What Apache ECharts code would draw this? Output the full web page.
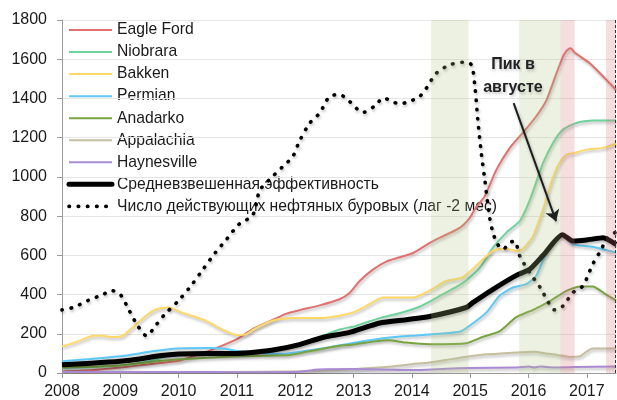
<!DOCTYPE html>
<html>
<head>
<meta charset="utf-8">
<script src="https://cdn.jsdelivr.net/npm/echarts@6/dist/echarts.min.js"></script>
<style>
  html, body { margin: 0; padding: 0; background: #fff; }
  #chart { width: 617px; height: 400px; }
</style>
</head>
<body>
<div id="chart"></div>
<script>
// Horizontal axis: fractional years; vertical axis: rigs / productivity
const xMin = 2008, xMax = 2017.5;
const yMin = 0, yMax = 1800, yStep = 200;

const seriesNames = [
  'Eagle Ford', 'Niobrara', 'Bakken', 'Permian', 'Anadarko', 'Appalachia', 'Haynesville',
  'Средневзвешенная эффективность',
  'Число действующих нефтяных буровых (лаг -2 мес)'
];

// [year, value]
const eagleFord = [[2008.0, 8], [2008.5, 14], [2009.0, 28], [2009.5, 45], [2010.0, 63], [2010.3, 90], [2010.6, 122],
  [2011.0, 173], [2011.27, 224], [2011.62, 272], [2011.85, 303], [2012.07, 320], [2012.42, 345], [2012.76, 376],
  [2012.93, 408], [2013.1, 468], [2013.33, 527], [2013.56, 568], [2013.79, 590], [2014.02, 612], [2014.3, 662],
  [2014.48, 690], [2014.82, 740], [2014.99, 790], [2015.1, 845], [2015.25, 902], [2015.45, 1037], [2015.68, 1148],
  [2015.9, 1224], [2016.13, 1308], [2016.31, 1393], [2016.48, 1529], [2016.6, 1620], [2016.66, 1645], [2016.72, 1656],
  [2016.8, 1632], [2017.05, 1580], [2017.28, 1512], [2017.5, 1444]];

const niobrara = [[2008.0, 25], [2008.5, 30], [2009.0, 38], [2009.5, 60], [2009.8, 85], [2010.0, 95], [2010.5, 100],
  [2011.0, 100], [2011.5, 112], [2012.07, 147], [2012.47, 190], [2012.76, 222], [2013.04, 240], [2013.45, 280],
  [2013.79, 305], [2014.13, 338], [2014.48, 393], [2014.87, 458], [2015.16, 535], [2015.39, 639], [2015.62, 716],
  [2015.85, 775], [2016.02, 880], [2016.25, 1071], [2016.42, 1173], [2016.59, 1241], [2016.82, 1275],
  [2017.1, 1288], [2017.5, 1288]];

const bakken = [[2008.0, 135], [2008.3, 164], [2008.53, 190], [2008.7, 190], [2008.87, 183], [2009.04, 190],
  [2009.21, 232], [2009.44, 292], [2009.62, 325], [2009.84, 334], [2010.02, 312], [2010.19, 295], [2010.47, 266],
  [2010.76, 220], [2010.99, 193], [2011.16, 198], [2011.3, 225], [2011.62, 268], [2011.96, 280], [2012.42, 280],
  [2012.76, 292], [2012.99, 309], [2013.22, 342], [2013.5, 385], [2014.02, 385], [2014.3, 420], [2014.59, 469],
  [2014.87, 487], [2015.16, 563], [2015.4, 625], [2015.62, 634], [2015.8, 622], [2015.9, 631], [2016.08, 698],
  [2016.25, 834], [2016.4, 980], [2016.53, 1071], [2016.65, 1114], [2016.79, 1122], [2016.99, 1139],
  [2017.28, 1148], [2017.5, 1170]];

const permian = [[2008.0, 60], [2008.5, 72], [2009.0, 85], [2009.5, 108], [2009.8, 120], [2010.0, 125], [2010.5, 127],
  [2010.8, 124], [2011.0, 112], [2011.3, 103], [2011.79, 97], [2012.19, 113], [2012.6, 132], [2013.04, 156],
  [2013.62, 181], [2014.13, 193], [2014.82, 210], [2014.99, 241], [2015.28, 309], [2015.5, 393], [2015.73, 436],
  [2015.96, 453], [2016.13, 495], [2016.31, 614], [2016.48, 690], [2016.59, 700], [2016.76, 656], [2017.1, 644],
  [2017.5, 614]];

const anadarko = [[2008.0, 28], [2008.5, 32], [2009.0, 38], [2009.5, 55], [2010.0, 70], [2010.5, 78], [2011.0, 85],
  [2011.5, 88], [2011.9, 92], [2012.19, 108], [2012.5, 125], [2012.76, 139], [2013.0, 145], [2013.33, 160],
  [2013.6, 167], [2013.9, 155], [2014.3, 147], [2014.93, 152], [2015.22, 185], [2015.5, 212], [2015.79, 285],
  [2016.08, 322], [2016.36, 365], [2016.65, 419], [2016.88, 441], [2017.1, 441], [2017.33, 400], [2017.5, 370]];

const appalachia = [[2008.0, 3], [2009.0, 3], [2010.0, 4], [2011.0, 5], [2012.0, 8], [2012.5, 12], [2013.0, 20],
  [2013.3, 25], [2013.7, 35], [2014.0, 45], [2014.3, 54], [2014.7, 72], [2015.0, 85], [2015.3, 95], [2015.8, 105],
  [2016.1, 108], [2016.3, 100], [2016.5, 92], [2016.7, 82], [2016.88, 85], [2017.0, 110], [2017.1, 125],
  [2017.5, 125]];

const haynesville = [[2008.0, 5], [2009.0, 5], [2010.0, 5], [2011.0, 4], [2012.0, 5], [2012.4, 18], [2013.0, 20],
  [2013.5, 18], [2014.0, 15], [2014.6, 22], [2015.0, 25], [2015.8, 28], [2016.0, 33], [2016.1, 28], [2016.2, 33],
  [2016.4, 28], [2016.8, 30], [2017.5, 33]];

const weightedAvg = [[2008.0, 42], [2008.5, 50], [2009.0, 60], [2009.33, 71], [2009.67, 88], [2010.0, 97],
  [2010.5, 100], [2011.0, 100], [2011.3, 106], [2011.62, 117], [2012.07, 145], [2012.47, 181], [2012.93, 207],
  [2013.45, 255], [2013.9, 272], [2014.3, 288], [2014.93, 334], [2015.05, 360], [2015.39, 427], [2015.79, 498],
  [2016.02, 529], [2016.25, 600], [2016.58, 705], [2016.76, 673], [2016.99, 678], [2017.28, 690], [2017.5, 656]];

const oilRigs = [[2008.0, 322], [2008.2, 335], [2008.45, 370], [2008.7, 400], [2008.85, 420], [2009.0, 400],
  [2009.15, 320], [2009.3, 240], [2009.45, 190], [2009.6, 240], [2009.75, 295], [2010.0, 370], [2010.2, 440],
  [2010.42, 529], [2010.62, 610], [2010.82, 681], [2011.04, 760], [2011.27, 805], [2011.39, 930], [2011.56, 987],
  [2011.79, 1054], [2011.96, 1105], [2012.07, 1181], [2012.25, 1275], [2012.42, 1326], [2012.59, 1410],
  [2012.76, 1419], [2012.93, 1385], [2013.16, 1329], [2013.39, 1368], [2013.5, 1402], [2013.79, 1373],
  [2013.96, 1385], [2014.13, 1410], [2014.25, 1453], [2014.42, 1529], [2014.65, 1571], [2014.9, 1585],
  [2015.02, 1571], [2015.08, 1461], [2015.13, 1292], [2015.19, 1122], [2015.25, 986], [2015.33, 800],
  [2015.39, 716], [2015.47, 656], [2015.56, 631], [2015.68, 665], [2015.76, 673], [2015.85, 597], [2016.02, 512],
  [2016.22, 427], [2016.31, 376], [2016.45, 322], [2016.59, 342], [2016.76, 410], [2016.93, 444], [2017.1, 554],
  [2017.25, 631], [2017.33, 681], [2017.48, 716]];

const seriesData = [eagleFord, niobrara, bakken, permian, anadarko, appalachia, haynesville, weightedAvg, oilRigs];

// Highlighted periods
const greenBands = [[2014.33, 2014.97], [2015.84, 2016.55]];
const pinkBands = [[2016.55, 2016.79], [2017.33, 2017.5]];
const lastDataLine = 2017.48;

// Peak annotation
const peakNote = 'Пик в\nавгусте';
const peakNoteAt = [2015.733, 1513];
const peakArrow = [[2015.745, 1376], [2016.472, 774]];

// Line styles per series
const styles = [
  { color: '#E0716F', width: 2 },
  { color: '#6DD39B', width: 2 },
  { color: '#FFD966', width: 2 },
  { color: '#5BC8F5', width: 2 },
  { color: '#78A33F', width: 2 },
  { color: '#C5BE9F', width: 2 },
  { color: '#A98BD4', width: 2 },
  { color: '#000000', width: 5 },
  { color: '#000000', width: 3.6, type: [0.5, 8.7], cap: 'round' }
];

const FONT = '"Liberation Sans", Arial, sans-serif';
const TEXT = '#1a1a1a';

const series = seriesData.map((d, i) => {
  const s = styles[i];
  return {
    name: seriesNames[i],
    type: 'line',
    data: d,
    showSymbol: false,
    symbol: 'none',
    smooth: i === 8 ? 0.3 : 0.2,
    z: 2 + i * 0.01,
    lineStyle: {
      color: s.color,
      width: s.width,
      type: s.type || 'solid',
      cap: s.cap || 'butt',
      join: 'round',
      shadowColor: 'rgba(0,0,0,0.28)',
      shadowBlur: 3,
      shadowOffsetX: 1,
      shadowOffsetY: 2
    }
  };
});

// Shaded periods, dashed end marker and the peak annotation
series.push({
  name: 'marks',
  type: 'line',
  data: [],
  markArea: {
    silent: true,
    z: 10,
    data: greenBands.map(b => [
      { xAxis: b[0], itemStyle: { color: 'rgba(174,196,130,0.23)' } },
      { xAxis: b[1] }
    ]).concat(pinkBands.map(b => [
      { xAxis: b[0], itemStyle: { color: 'rgba(213,115,115,0.235)' } },
      { xAxis: b[1] }
    ]))
  },
  markLine: {
    silent: true,
    z: 11,
    animation: false,
    data: [
      [
        { xAxis: lastDataLine, yAxis: yMin, symbol: 'none', lineStyle: { color: '#333', width: 1, type: [3, 2] } },
        { xAxis: lastDataLine, yAxis: yMax, symbol: 'none' }
      ],
      [
        { coord: peakArrow[0], symbol: 'none',
          lineStyle: { color: '#1f1f1f', width: 2, type: 'solid',
                       shadowColor: 'rgba(0,0,0,0.3)', shadowBlur: 3, shadowOffsetX: 1, shadowOffsetY: 2 } },
        { coord: peakArrow[1], symbol: 'arrow', symbolSize: 11 }
      ]
    ],
    label: { show: false },
    symbolSize: 11
  },
  markPoint: {
    silent: true,
    z: 12,
    symbol: 'rect',
    symbolSize: 0,
    data: [{ coord: peakNoteAt }],
    label: {
      show: true,
      position: 'inside',
      formatter: peakNote,
      fontFamily: FONT,
      fontSize: 16,
      fontWeight: 'bold',
      lineHeight: 23,
      color: '#222',
      textShadowColor: 'rgba(0,0,0,0.22)',
      textShadowBlur: 3,
      textShadowOffsetX: 1,
      textShadowOffsetY: 2
    }
  }
});

// Legend drawn as line samples with labels
const legendX = 69, legendY = 30, legendRow = 22.05, legendLine = 43;
const graphic = seriesNames.map((name, i) => {
  const s = styles[i];
  return {
    type: 'group',
    x: legendX,
    y: legendY + legendRow * i,
    z: 20,
    silent: true,
    children: [
      {
        type: 'line',
        shape: { x1: 0, y1: 0, x2: legendLine, y2: 0 },
        style: {
          stroke: s.color,
          lineWidth: s.width,
          lineDash: s.type || null,
          lineCap: s.cap || (s.width > 3 ? 'round' : 'butt')
        }
      },
      {
        type: 'text',
        x: legendLine + 5,
        y: 0,
        style: {
          text: name,
          fontFamily: FONT,
          fontSize: 15.7,
          fill: TEXT,
          verticalAlign: 'middle',
          align: 'left'
        }
      }
    ]
  };
});

const chart = echarts.init(document.getElementById('chart'), null, { renderer: 'canvas' });
chart.setOption({
  animation: false,
  backgroundColor: '#fff',
  grid: { left: 62, right: 1, top: 20, bottom: 26, containLabel: false },
  xAxis: {
    type: 'value',
    min: xMin,
    max: xMax,
    interval: 1,
    axisLine: { show: true, lineStyle: { color: '#9a9a9a', width: 1 } },
    axisTick: { show: true, length: 5, lineStyle: { color: '#9a9a9a' } },
    splitLine: { show: false },
    axisLabel: {
      margin: 11,
      showMaxLabel: false,
      fontFamily: FONT,
      fontSize: 16,
      color: TEXT,
      formatter: v => (Math.abs(v - Math.round(v)) < 1e-6 ? String(Math.round(v)) : '')
    }
  },
  yAxis: {
    type: 'value',
    min: yMin,
    max: yMax,
    interval: yStep,
    axisLine: { show: true, lineStyle: { color: '#9a9a9a', width: 1 } },
    axisTick: { show: true, length: 5, lineStyle: { color: '#9a9a9a' } },
    splitLine: { show: true, lineStyle: { color: '#e6e6e6', width: 1 } },
    axisLabel: {
      margin: 15,
      fontFamily: FONT,
      fontSize: 16,
      color: TEXT,
      formatter: v => String(v)
    }
  },
  series: series,
  graphic: graphic
});
</script>
</body>
</html>
